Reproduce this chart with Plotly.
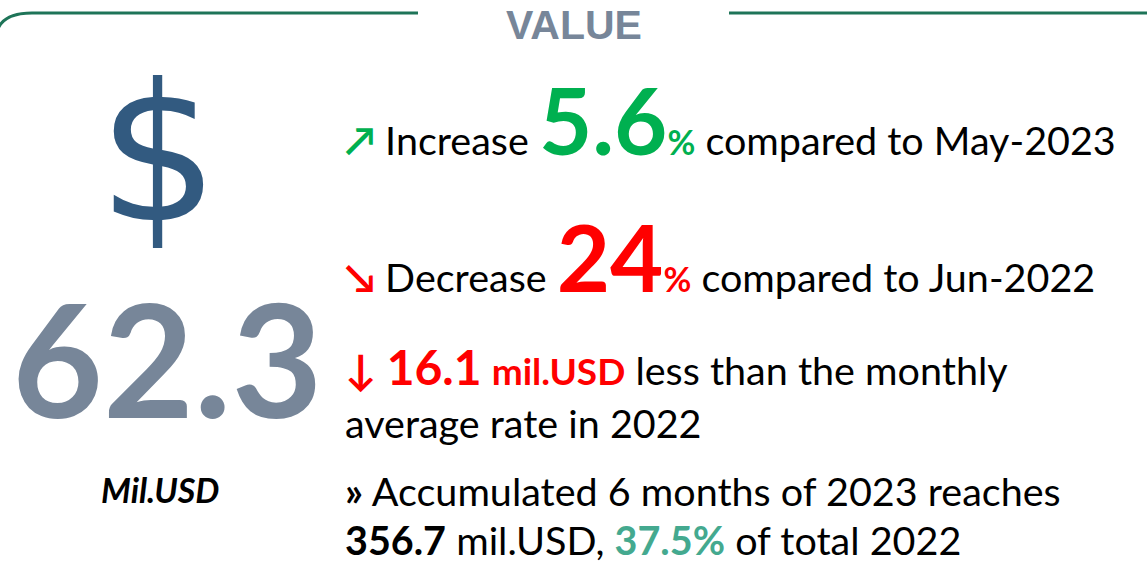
import plotly.graph_objects as go

# ---- data read from the infographic ----
title = ["VALUE"]
unit_labels = ["Mil.USD", "mil.USD"]
main_value = [62.3]
change_labels = ["Increase", "Decrease"]
change_pcts = [5.6, 24]
change_refs = ["May-2023", "Jun-2022"]
avg_gap = [16.1]
avg_year = ["2022"]
accum_months = [6]
accum_year = ["2023"]
accum_value = [356.7]
accum_share = [37.5]
share_base = ["2022"]

FONT = "Lato"
GREEN = "#00b050"
RED = "#ff0000"
TEAL = "#44a98f"
SLATE = "#778699"
NAVY = "#325a80"
LINE = "#1e7458"

W, H = 1147, 563
BODY = 39.5

fig = go.Figure()
fig.add_trace(go.Scatter(x=[0, W], y=[0, H], mode="markers",
                         marker=dict(opacity=0), hoverinfo="skip", showlegend=False))

# frame lines
fig.add_shape(type="path", path="M -4,36 Q -1,13 32,13 L 418,13",
              line=dict(color=LINE, width=3), xref="x", yref="y")
fig.add_shape(type="line", x0=729, y0=13, x1=W, y1=13,
              line=dict(color=LINE, width=3), xref="x", yref="y")


def ann(x, y, text, size, color="#000000", xanchor="left", yanchor="middle", family=FONT):
    fig.add_annotation(x=x, y=y, xref="x", yref="y", text=text, showarrow=False,
                       xanchor=xanchor, yanchor=yanchor, align="left", borderpad=0,
                       font=dict(family=family, size=size, color=color))


def span(t, size, color, bold=False):
    s = f'<span style="font-size:{size}px;color:{color}">{t}</span>'
    return f"<b>{s}</b>" if bold else s


# title
ann(574, 1, f"<b>{title[0]}</b>", 41, SLATE, xanchor="center", yanchor="top",
    family="Liberation Sans")

# dollar sign
ann(158, 154, "$", 190, NAVY, xanchor="center", family="DejaVu Sans")

# big value
ann(167, 357, f"<b>{main_value[0]:.1f}</b>", 157, SLATE, xanchor="center")
ann(160, 489, f"<b><i>{unit_labels[0]}</i></b>", 34, "#000000", xanchor="center")

# line 1
t1 = (span("↗", 40, GREEN, True) + " " + change_labels[0] + " "
      + span(f"{change_pcts[0]}", 92, GREEN, True)
      + span("%", 34, GREEN, True) + " compared to " + change_refs[0])
ann(344, 119, t1, BODY)

# line 2
t2 = (span("↘", 40, RED, True) + " " + change_labels[1] + " "
      + span(f"{change_pcts[1]}", 92, RED, True)
      + span("%", 34, RED, True) + " compared to " + change_refs[1])
ann(344, 256, t2, BODY)

# line 3/4
t3 = (span("↓", 42, RED, True) + " " + span(f"{avg_gap[0]}", 48, RED, True) + " "
      + span(unit_labels[1], 37, RED, True) + " less than the monthly")
ann(344, 366, t3, BODY)
ann(344, 422, f"average rate in {avg_year[0]}", BODY)

# line 5/6
t5 = f"<b>»</b> Accumulated {accum_months[0]} months of {accum_year[0]} reaches"
ann(344, 490, t5, BODY)
t6 = (f"<b>{accum_value[0]}</b> {unit_labels[1]}, "
      + span(f"{accum_share[0]}%", BODY, TEAL, True) + f" of total {share_base[0]}")
ann(344, 539, t6, BODY)

fig.update_xaxes(range=[0, W], visible=False, fixedrange=True)
fig.update_yaxes(range=[H, 0], visible=False, fixedrange=True)
fig.update_layout(width=W, height=H, margin=dict(l=0, r=0, t=0, b=0),
                  plot_bgcolor="white", paper_bgcolor="white", showlegend=False)
fig.write_html("out.html", post_script="document.body.style.margin='0';",
               config={"displayModeBar": False})
